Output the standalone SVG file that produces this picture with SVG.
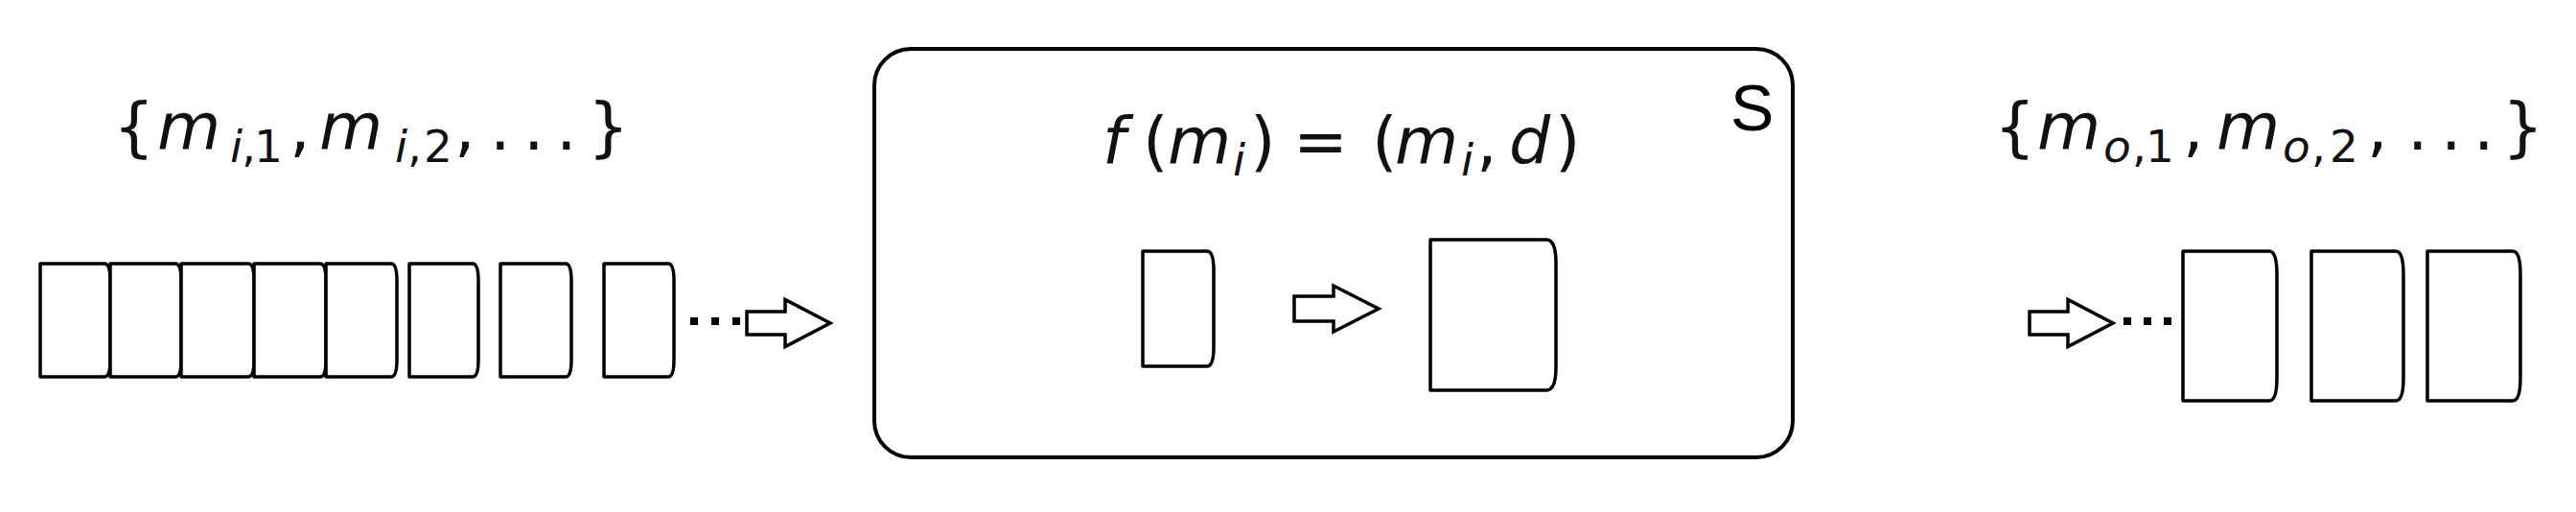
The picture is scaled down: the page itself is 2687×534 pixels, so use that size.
<svg xmlns="http://www.w3.org/2000/svg" width="2687" height="534" viewBox="0 0 2687 534">
<style>
.bx{fill:#fff;stroke:#000;stroke-width:3.5;stroke-linejoin:round}
.ar{fill:#fff;stroke:#000;stroke-width:3.5;stroke-linejoin:miter}
.dots{stroke:#000;stroke-width:8;fill:none}
.mt{font-family:"DejaVu Sans",sans-serif;font-size:68px;fill:#111}
.it{font-style:italic}
.sb{font-size:47px}
.lbl{font-family:"Liberation Sans",Arial,sans-serif;font-size:68px;fill:#000}
</style>
<rect width="2687" height="534" fill="#fff"/>
<g id="input-label">
<text class="mt" y="156"><tspan x="118">{</tspan><tspan class="it" x="164">m</tspan><tspan class="it sb" x="240" y="169">i</tspan><tspan class="sb" x="252" y="169">,</tspan><tspan class="sb" x="265" y="169">1</tspan><tspan x="302" y="156">,</tspan><tspan class="it" x="333">m</tspan><tspan class="it sb" x="412" y="169">i</tspan><tspan class="sb" x="425" y="169">,</tspan><tspan class="sb" x="442" y="169">2</tspan><tspan x="474" y="156">,</tspan><tspan x="511">.</tspan><tspan x="546">.</tspan><tspan x="580">.</tspan><tspan x="613">}</tspan></text>
</g>
<g id="input-queue">
<path class="bx" d="M42 275 H109 Q115 275 115 293 V375 Q115 393 109 393 H42 Z"/>
<path class="bx" d="M115 275 H183 Q189 275 189 293 V375 Q189 393 183 393 H115 Z"/>
<path class="bx" d="M189 275 H259 Q265 275 265 293 V375 Q265 393 259 393 H189 Z"/>
<path class="bx" d="M265 275 H334 Q340 275 340 293 V375 Q340 393 334 393 H265 Z"/>
<path class="bx" d="M340 275 H408 Q414 275 414 293 V375 Q414 393 408 393 H340 Z"/>
<path class="bx" d="M427 275 H493 Q499 275 499 293 V375 Q499 393 493 393 H427 Z"/>
<path class="bx" d="M522 275 H590 Q596 275 596 293 V375 Q596 393 590 393 H522 Z"/>
<path class="bx" d="M630 275 H697 Q703 275 703 293 V375 Q703 393 697 393 H630 Z"/>
</g>
<g id="service-S">
<rect x="912" y="51" width="958" height="426" rx="38" ry="38" fill="#fff" stroke="#000" stroke-width="4"/>
<text class="lbl" x="1805" y="136">S</text>
<text class="mt" y="171"><tspan class="it" x="1150">f</tspan><tspan x="1192">(</tspan><tspan class="it" x="1218">m</tspan><tspan class="it sb" x="1286" y="183">i</tspan><tspan x="1304" y="171">)</tspan><tspan x="1349">=</tspan><tspan x="1431">(</tspan><tspan class="it" x="1455">m</tspan><tspan class="it sb" x="1524" y="183">i</tspan><tspan x="1540" y="171">,</tspan><tspan class="it" x="1574">d</tspan><tspan x="1622">)</tspan></text>
<path class="bx" d="M1192 262 H1259 Q1266 262 1266 282 V362 Q1266 382 1259 382 H1192 Z"/>
<path class="ar" d="M1350 309 H1391 V298 L1438 322 L1391 346 V335 H1350 Z"/>
<path class="bx" d="M1492 250 H1613 Q1623 250 1623 274 V383 Q1623 407 1613 407 H1492 Z"/>
</g>
<g id="output-label">
<text class="mt" y="156"><tspan x="2080">{</tspan><tspan class="it" x="2125">m</tspan><tspan class="it sb" x="2194" y="169">o</tspan><tspan class="sb" x="2224" y="169">,</tspan><tspan class="sb" x="2238" y="169">1</tspan><tspan x="2277" y="156">,</tspan><tspan class="it" x="2312">m</tspan><tspan class="it sb" x="2381" y="169">o</tspan><tspan class="sb" x="2411" y="169">,</tspan><tspan class="sb" x="2430" y="169">2</tspan><tspan x="2469" y="156">,</tspan><tspan x="2511">.</tspan><tspan x="2546">.</tspan><tspan x="2580">.</tspan><tspan x="2610">}</tspan></text>
</g>
<g id="output-queue">
<path class="bx" d="M2277 262 H2367 Q2375 262 2375 286 V394 Q2375 418 2367 418 H2277 Z"/>
<path class="bx" d="M2411 262 H2499 Q2507 262 2507 286 V394 Q2507 418 2499 418 H2411 Z"/>
<path class="bx" d="M2532 262 H2621 Q2629 262 2629 286 V394 Q2629 418 2621 418 H2532 Z"/>
</g>
<g id="connectors">
<line class="dots" x1="720" y1="335" x2="772" y2="335" stroke-dasharray="8 14"/>
<path class="ar" d="M779 325 H819 V312.5 L866 337 L819 361.5 V349 H779 Z"/>
<path class="ar" d="M2117 325 H2157 V312.5 L2204 337 L2157 361.5 V349 H2117 Z"/>
<line class="dots" x1="2215" y1="335" x2="2265" y2="335" stroke-dasharray="8 13"/>
</g>
</svg>
